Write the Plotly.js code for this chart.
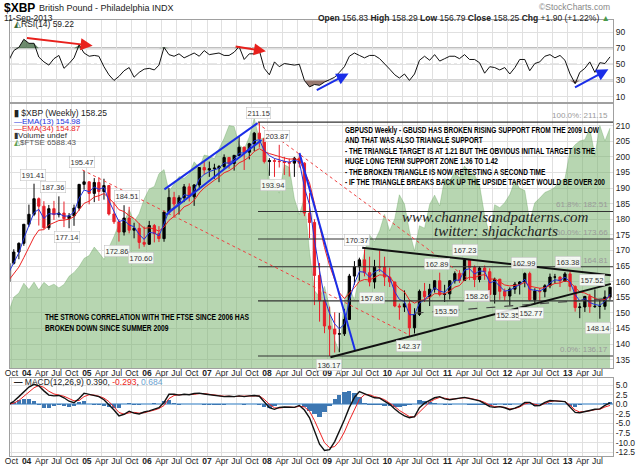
<!DOCTYPE html>
<html><head><meta charset="utf-8">
<script src="https://cdn.plot.ly/plotly-3.0.1.min.js"></script>
<style>html,body{margin:0;padding:0;background:#fff}#chart{width:640px;height:466px}</style>
</head><body><div id="chart"></div>
<script>
// ---------- DATA (monthly, Sep 2003 .. Sep 2013) ----------
const firstMonth = {year: 2003, month: 9};
const firstOpen = 160.0;
const closeP = [165.9,169.5,172.3,178.4,
181.6,186.6,184.2,177.3,183.4,181.5,182.0,180.2,181.1,183.6,191.2,192.0,
188.3,191.8,188.9,190.8,181.7,179.2,175.9,180.4,176.5,177.1,172.6,172.0,
178.0,175.4,173.8,182.3,187.0,184.9,186.9,190.4,187.2,191.0,196.6,195.8,
196.2,196.4,196.9,199.8,197.9,200.5,203.1,201.5,204.2,207.6,205.8,198.5,
198.8,198.6,198.5,198.2,198.0,199.6,198.0,182.0,179.0,162.0,153.9,145.8,
144.8,143.2,143.3,147.9,161.8,164.8,167.0,162.9,159.9,164.8,164.7,161.5,
159.9,152.2,151.9,152.9,145.2,149.5,156.9,155.2,157.6,160.3,155.9,156.1,
160.3,162.6,160.4,167.0,164.6,160.7,164.4,163.2,155.9,160.8,156.9,155.4,
157.6,159.2,159.9,162.6,154.2,157.0,156.8,158.7,161.5,161.5,160.2,162.5,
158.5,151.7,151.9,155.3,152.0,152.1,152.1,155.1,158.25];
const highP = [166.5,170.4,172.6,178.5,
184.7,191.41,187.0,185.8,184.6,185.9,187.36,185.7,182.0,184.7,191.3,195.47,
192.2,193.2,193.5,193.0,191.0,185.5,180.0,184.51,184.0,178.9,178.7,177.7,
179.5,178.5,177.8,182.8,190.0,188.8,187.7,191.3,191.5,191.3,196.7,198.5,
198.5,197.8,197.4,200.8,200.0,200.6,206.6,203.3,204.5,208.0,211.15,206.0,
199.6,199.5,203.87,200.0,199.5,200.0,201.3,198.3,188.4,180.0,166.0,154.7,
152.0,150.2,150.0,151.3,162.5,166.6,167.7,170.37,168.0,167.0,170.0,168.0,
164.5,160.0,153.0,157.2,154.0,151.5,157.5,159.6,159.3,160.4,162.89,159.0,
160.5,163.3,163.7,167.23,167.0,165.2,164.9,165.2,164.3,161.3,160.9,157.8,
158.2,159.9,160.2,162.99,163.2,157.9,158.0,159.2,162.6,162.5,161.7,163.1,
163.38,158.8,153.2,155.4,156.1,157.52,154.3,157.2,158.29];
const lowP = [159.5,165.5,167.2,171.5,
177.6,181.0,178.0,176.9,176.6,179.8,180.6,177.5,177.14,177.9,182.8,189.5,
184.8,185.5,185.9,186.3,181.2,178.5,172.86,174.8,175.5,173.9,170.6,171.2,
171.8,172.6,172.7,172.8,181.5,180.5,181.5,185.5,185.7,184.3,189.6,194.3,
193.6,193.0,191.9,196.2,196.2,195.6,200.3,195.8,199.2,201.8,203.0,197.9,
193.94,193.6,196.6,194.2,193.7,193.6,196.6,181.0,174.0,152.5,147.2,143.5,
136.17,137.3,137.4,142.6,147.8,159.0,160.3,161.7,158.5,157.8,163.1,158.6,
158.3,151.8,147.8,150.3,142.37,143.4,149.0,153.5,152.2,156.5,155.3,153.5,
154.3,159.4,159.6,160.3,160.5,158.26,159.8,160.6,153.8,153.0,154.2,153.9,
152.35,156.1,155.9,158.2,153.8,152.77,153.9,155.0,157.9,159.4,158.3,160.0,
156.9,150.4,148.3,150.3,150.0,151.6,148.14,151.0,154.2];
const ema13Start = 163.0, ema34Start = 160.5;
const ftse = [4091,4287,4342,4477,
4390,4492,4386,4489,4431,4464,4413,4459,4571,4624,4703,4814,
4852,4968,4894,4801,4964,5113,5282,5297,5478,5317,5423,5619,
5760,5792,5965,6023,5723,5833,5928,5906,5961,6129,6048,6221,
6203,6172,6308,6449,6621,6608,6360,6303,6467,6722,6432,6457,
5880,5884,5702,6087,6054,5626,5412,5637,4902,4377,4288,4434,
4150,3700,3550,4244,4418,4249,4608,4909,5134,5045,5191,5413,
5189,5355,5680,5553,5188,4917,5258,5225,5549,5675,5528,5900,
5863,5994,5909,6070,5990,5946,5815,5395,5128,5544,5505,5572,
5682,5872,5768,5738,5321,5571,5635,5711,5742,5783,5867,5898,
6277,6361,6412,6430,6583,6215,6621,6413,6588];
const rsi = [55,
67,71,81,76,76,59,53,49,57,61,
45,51,58,74,64,60,61,60,47,37,
30,35,42,46,34,40,44,45,43,49,
71,62,60,63,58,61,64,60,67,62,
63,64,61,61,65,72,56,63,63,67,
45,37,53,47,51,50,49,50,30,22,
25,24,28,31,34,40,47,60,64,61,
58,61,61,57,51,44,37,33,38,30,
38,55,60,55,62,54,57,60,60,57,
62,56,56,52,39,47,46,43,46,38,
46,56,56,42,51,53,60,62,58,61,
55,38,26,40,45,53,40,52,51,59.22];
const macd = [0.0,
0.8,2.0,3.3,4.5,5.2,4.8,3.5,2.4,2.2,2.3,
1.7,0.8,0.4,1.5,2.9,2.6,2.2,2.0,1.2,0.0,
-1.5,-3.0,-2.6,-1.8,-2.3,-2.5,-2.0,-1.7,-1.2,-0.9,
0.5,2.6,2.6,2.4,2.6,2.5,2.8,2.9,2.7,2.5,
2.2,2.1,2.0,2.1,2.0,2.2,2.0,2.2,2.3,2.1,
0.5,-0.9,-1.3,-0.8,-0.7,-0.7,-0.8,-0.3,-1.5,-3.5,
-6.8,-10.4,-12.0,-11.8,-9.7,-7.2,-4.0,-0.8,1.8,3.3,
2.8,2.2,1.7,1.6,0.8,0.0,-1.2,-2.2,-3.0,-3.5,
-3.2,-0.9,0.3,1.1,1.7,2.0,1.4,1.2,1.5,1.6,
1.8,1.5,1.1,0.9,0.2,-0.6,-0.8,-0.6,-0.9,-1.4,
-1.0,-0.5,0.5,0.5,-0.4,-0.3,0.5,1.0,0.9,0.8,
0.7,-0.7,-2.1,-2.2,-1.8,-1.6,-1.3,-1.2,-0.3,0.39];
const signal = [0.0,
0.3,1.0,2.0,3.2,4.3,4.9,4.4,3.4,2.7,2.4,
2.1,1.5,0.9,1.0,2.0,2.5,2.4,2.1,1.6,0.7,
-0.6,-2.1,-2.6,-2.2,-2.1,-2.3,-2.2,-1.9,-1.5,-1.1,
-0.3,1.5,2.3,2.5,2.5,2.5,2.6,2.8,2.8,2.6,
2.4,2.2,2.1,2.1,2.0,2.1,2.1,2.1,2.2,2.2,
1.3,0.0,-0.9,-1.0,-0.8,-0.7,-0.8,-0.5,-0.7,-1.8,
-4.2,-7.2,-10.0,-11.3,-11.0,-9.6,-7.2,-4.2,-1.2,1.3,
2.5,2.5,2.0,1.7,1.2,0.4,-0.6,-1.6,-2.5,-3.2,
-3.3,-2.0,-0.5,0.6,1.3,1.8,1.6,1.3,1.4,1.5,
1.7,1.6,1.3,1.0,0.5,-0.2,-0.6,-0.6,-0.8,-1.2,
-1.1,-0.7,0.1,0.4,0.0,-0.3,0.2,0.7,0.9,0.8,
0.7,-0.2,-1.5,-2.0,-1.9,-1.7,-1.4,-1.3,-0.7,-0.293];

const tickDates = ['2003-10-01',
'2004-01-01','2004-04-01','2004-07-01','2004-10-01','2005-01-01','2005-04-01','2005-07-01','2005-10-01',
'2006-01-01','2006-04-01','2006-07-01','2006-10-01','2007-01-01','2007-04-01','2007-07-01','2007-10-01',
'2008-01-01','2008-04-01','2008-07-01','2008-10-01','2009-01-01','2009-04-01','2009-07-01','2009-10-01',
'2010-01-01','2010-04-01','2010-07-01','2010-10-01','2011-01-01','2011-04-01','2011-07-01','2011-10-01',
'2012-01-01','2012-04-01','2012-07-01','2012-10-01','2013-01-01','2013-04-01','2013-07-01'];
const tickText = ['Oct',
'<b>04</b>','Apr','Jul','Oct','<b>05</b>','Apr','Jul','Oct',
'<b>06</b>','Apr','Jul','Oct','<b>07</b>','Apr','Jul','Oct',
'<b>08</b>','Apr','Jul','Oct','<b>09</b>','Apr','Jul','Oct',
'<b>10</b>','Apr','Jul','Oct','<b>11</b>','Apr','Jul','Oct',
'<b>12</b>','Apr','Jul','Oct','<b>13</b>','Apr','Jul'];
const priceTicks = [135,140,145,150,155,160,165,170,175,180,185,190,195,200,205,210];
const rsiTicks = [10,30,50,70,90];
const macdTicks = [5,2.5,0,-2.5,-5,-7.5,-10,-12.5];
const macdTickText = ['5.0','2.5','0.0','-2.5','-5.0','-7.5','-10.0','-12.5'];

const fibStart = '2007-11-07';
const fibLevels = [211.15,182.51,173.66,164.81,153.86,136.17];
const fibText = ['100.0%: 211.15','61.8%: 182.51','50.0%: 173.66','38.2%: 164.81','','0.0%: 136.17'];

const ptDates = ['2004-02-10','2004-06-10','2004-11-30','2005-08-30','2004-09-05','2005-07-06','2005-11-24',
'2007-11-07','2008-03-03','2008-02-06','2009-01-10','2009-07-01','2009-09-27','2010-05-12','2010-10-30',
'2010-12-25','2011-04-20','2011-07-01','2012-04-09','2012-01-01','2012-05-22','2013-01-01','2013-05-30','2013-07-01'];
const ptVals = [191.41,187.36,195.47,184.51,177.14,172.86,170.60,211.15,203.87,193.94,136.17,170.37,157.80,142.37,
162.89,153.50,167.23,158.26,162.99,152.35,152.77,163.38,157.52,148.14];
const ptPos = [1,1,1,1,-1,-1,-1,1,1,-1,-1,1,-1,-1,1,-1,1,-1,1,-1,-1,1,1,-1];

const blueLines = [['2006-04-17',189.6,'2007-11-04',210.8],['2006-04-25',181.4,'2007-11-28',205.4],['2008-07-16',201.2,'2009-06-18',138.1]];
const blackLines = [['2009-08-01',170.9,'2013-09-20',162.1],['2009-01-20',135.8,'2013-09-20',159.3]];
const dashLines = [['2010-06-15',149.9,'2013-09-20',154.7]];
const redDash = [['2004-12-05',195.8,'2010-05-15',142.9],['2007-11-04',210.8,'2011-05-15',160.6]];
const rsiArrows = [['2003-12-25',82.9,'2005-02-05',73,'#e8201c'],['2007-06-15',72.5,'2007-12-25',66.2,'#e8201c'],
['2008-10-20',17,'2009-05-10',38.7,'#1a2ee8'],['2013-02-05',20.3,'2013-09-05',43.8,'#1a2ee8']];

const noteLines = ['GBPUSD Weekly - GBUSD HAS BROKEN RISING SUPPORT FROM THE 2009 LOW',
'AND THAT WAS ALSO TRIANGLE SUPPORT',
'- THE TRIANGLE TARGET IS AT 1.21 BUT THE OBVIOUS INITIAL TARGET IS THE',
'HUGE LONG TERM SUPPORT ZONE 1.36 TO 1.42',
'- THE BROKEN TRIANGLE IS NOW RETESTING A SECOND TIME',
'- IF THE TRIANGLE BREAKS BACK UP THE UPSIDE TARGET WOULD BE OVER 200'];
const ftseLines = ['THE STRONG CORRELATION WITH THE FTSE SINCE 2006 HAS', 'BROKEN DOWN SINCE SUMMER 2009'];

// ---------- BUILD ----------
const dates = closeP.map((_, i) => {
  const m = firstMonth.month - 1 + i;
  const y = firstMonth.year + Math.floor(m / 12);
  const mm = String(m % 12 + 1).padStart(2, '0');
  return `${y}-${mm}-15`;
});
const openP = closeP.map((c, i) => i === 0 ? firstOpen : closeP[i - 1]);
const ema = (start, n) => { const a = 2 / (n + 1); const out = [start];
  for (let i = 1; i < closeP.length; i++) out.push(out[i - 1] + a * (closeP[i] - out[i - 1])); return out; };
const ema13 = ema(ema13Start, 3), ema34 = ema(ema34Start, 8);
const hist = macd.map((v, i) => v - signal[i]);

const F = '"Liberation Sans", Arial, sans-serif';
const L = 10, R = 27, T = 20, B = 10, WW = 640, HH = 466;
const PW = WW - L - R, PH = HH - T - B;
const px = x => (x - L) / PW, py = y => (HH - B - y) / PH;
const xr = ['2003-09-22', '2013-10-03'];

const traces = [
  {type:'scatter', x:dates, y:ftse, xaxis:'x2', yaxis:'y2', mode:'lines', fill:'tozeroy',
   line:{color:'rgba(95,160,85,0.55)', width:0.6}, fillcolor:'rgba(112,173,99,0.5)', hoverinfo:'skip'},
  {type:'candlestick', x:dates, open:openP, high:highP, low:lowP, close:closeP, xaxis:'x2', yaxis:'y4',
   increasing:{line:{color:'#000', width:1}, fillcolor:'#000'},
   decreasing:{line:{color:'#e8202a', width:1}, fillcolor:'#e8202a'}, whiskerwidth:0},
  {type:'scatter', x:dates, y:ema34, xaxis:'x2', yaxis:'y4', mode:'lines', line:{color:'#ee2222', width:1}},
  {type:'scatter', x:dates, y:ema13, xaxis:'x2', yaxis:'y4', mode:'lines', line:{color:'#2233dd', width:1}},
  {type:'scatter', x:dates, y:rsi.map(() => 70), xaxis:'x', yaxis:'y', mode:'lines', line:{width:0}, hoverinfo:'skip'},
  {type:'scatter', x:dates, y:rsi.map(v => Math.max(v, 70)), xaxis:'x', yaxis:'y', mode:'lines', line:{width:0},
   fill:'tonexty', fillcolor:'rgba(60,100,60,0.75)', hoverinfo:'skip'},
  {type:'scatter', x:dates, y:rsi.map(() => 30), xaxis:'x', yaxis:'y', mode:'lines', line:{width:0}, hoverinfo:'skip'},
  {type:'scatter', x:dates, y:rsi.map(v => Math.min(v, 30)), xaxis:'x', yaxis:'y', mode:'lines', line:{width:0},
   fill:'tonexty', fillcolor:'rgba(120,80,70,0.75)', hoverinfo:'skip'},
  {type:'scatter', x:dates, y:rsi, xaxis:'x', yaxis:'y', mode:'lines', line:{color:'#111', width:1}},
  {type:'bar', x:dates, y:hist, xaxis:'x3', yaxis:'y3', marker:{color:'#3d77b2', line:{width:0}}, width:26*86400000},
  {type:'scatter', x:dates, y:signal, xaxis:'x3', yaxis:'y3', mode:'lines', line:{color:'#ee2222', width:1}},
  {type:'scatter', x:dates, y:macd, xaxis:'x3', yaxis:'y3', mode:'lines', line:{color:'#111', width:1.4}}
];

const gridC = '#e0e0e0', frameC = '#a0a0a0';
const tickF = {family:F, size:8.5, color:'#222'};
const xBase = {type:'date', range:xr, tickmode:'array', tickvals:tickDates, ticktext:tickText, showgrid:true,
  gridcolor:gridC, gridwidth:1, showline:true, mirror:true, linecolor:frameC, linewidth:1, ticks:'', tickfont:tickF,
  zeroline:false, fixedrange:true, ticklabelstandoff:-3};
const layout = {
  width:WW, height:HH, margin:{l:L, r:R, t:T, b:B}, paper_bgcolor:'#fff', plot_bgcolor:'#fff', showlegend:false,
  font:{family:F, size:8.5, color:'#222'}, bargap:0,
  xaxis: Object.assign({}, xBase, {domain:[0,1], anchor:'y', showticklabels:false}),
  xaxis2: Object.assign({}, xBase, {domain:[0,1], anchor:'y2', rangeslider:{visible:false}}),
  xaxis3: Object.assign({}, xBase, {domain:[0,1], anchor:'y3'}),
  yaxis: {domain:[py(102), 1], anchor:'x', side:'right', range:[3.3, 104.9], tickmode:'array', tickvals:rsiTicks,
    showgrid:true, gridcolor:gridC, showline:true, mirror:true, linecolor:frameC, ticks:'', tickfont:tickF, zeroline:false},
  yaxis2: {domain:[py(368), py(104)], anchor:'x2', range:[3323, 6915], visible:false, showgrid:false, zeroline:false},
  yaxis4: {overlaying:'y2', anchor:'x2', side:'right', range:[132.34, 216.95], tickmode:'array', tickvals:priceTicks,
    showgrid:true, gridcolor:gridC, showline:true, mirror:true, linecolor:frameC, ticks:'', tickfont:tickF, zeroline:false},
  yaxis3: {domain:[0, py(378)], anchor:'x3', side:'right', range:[-13.46, 6.85], tickmode:'array', tickvals:macdTicks,
    ticktext:macdTickText, showgrid:true, gridcolor:gridC, showline:true, mirror:true, linecolor:frameC, ticks:'',
    tickfont:tickF, zeroline:true, zerolinecolor:'rgba(120,170,215,0.8)', zerolinewidth:2},
  shapes:[], annotations:[]
};

layout.shapes.push({type:'line', xref:'x', yref:'y', x0:xr[0], x1:xr[1], y0:70, y1:70, line:{color:'#aaa', width:2}, layer:'below'});
layout.shapes.push({type:'line', xref:'x', yref:'y', x0:xr[0], x1:xr[1], y0:30, y1:30, line:{color:'#aaa', width:2}, layer:'below'});
layout.shapes.push({type:'line', xref:'x', yref:'y', x0:xr[0], x1:xr[1], y0:50, y1:50, line:{color:'#888', width:1, dash:'dashdot'}, layer:'below'});

fibLevels.forEach((v, i) => {
  layout.shapes.push({type:'line', xref:'x2', yref:'y4', x0:fibStart, x1:xr[1], y0:v, y1:v, line:{color:'#333', width:1.1}});
  if (fibText[i]) layout.annotations.push({xref:'x2', yref:'y4', x:xr[1], y:v, xanchor:'right', yanchor:'bottom', xshift:-3,
    text:fibText[i], showarrow:false, font:{family:F, size:8, color:'#9a9a9a'}});
});
const addLines = (arr, style) => arr.forEach(l => layout.shapes.push({type:'line', xref:'x2', yref:'y4',
  x0:l[0], y0:l[1], x1:l[2], y1:l[3], line:style}));
addLines(redDash, {color:'#f04040', width:1, dash:'dot'});
addLines(blueLines, {color:'#1a2ee8', width:2});
addLines(blackLines, {color:'#111', width:2});
addLines(dashLines, {color:'#444', width:1.2, dash:'dash'});

rsiArrows.forEach(a => layout.annotations.push({xref:'x', yref:'y', axref:'x', ayref:'y', x:a[2], y:a[3], ax:a[0], ay:a[1],
  showarrow:true, arrowhead:2, arrowsize:1.2, arrowwidth:2, arrowcolor:a[4], text:''}));

ptDates.forEach((d, i) => layout.annotations.push({xref:'x2', yref:'y4', x:d, y:ptVals[i], yshift:ptPos[i] * 9,
  text:ptVals[i].toFixed(2), showarrow:false, font:{family:F, size:7.5, color:'#333'},
  bgcolor:'rgba(255,255,255,0.85)', bordercolor:'#bbb', borderwidth:0.5, borderpad:1}));

const txt = (x, y, text, font, extra) => layout.annotations.push(Object.assign({xref:'paper', yref:'paper',
  x:px(x), y:py(y), text:text, showarrow:false, xanchor:'left', yanchor:'middle', align:'left',
  font:Object.assign({family:F, size:8.5, color:'#222'}, font || {})}, extra || {}));

// header
txt(2, 8, '<b>$XBP</b>', {size:12, color:'#000'});
txt(37, 8, 'British Pound - Philadelphia INDX', {size:9});
txt(2, 18, '11-Sep-2013', {size:8.5});
txt(612, 7, '©StockCharts.com', {size:8.5, color:'#888'}, {xanchor:'right'});
txt(612, 18, '<b>Open</b> 156.83 <b>High</b> 158.29 <b>Low</b> 156.79 <b>Close</b> 158.25 <b>Chg</b> +1.90 (+1.22%) <span style="color:#4a9a4a">▲</span>', {size:8.5}, {xanchor:'right'});

// panel legends
txt(12, 24, '<span style="color:#3a6a3a">◭</span>RSI(14) 59.22');
txt(12, 113, '<b>▮</b> $XBP (Weekly) 158.25');
txt(12, 121, '<span style="color:#2233dd">—EMA(13) 154.98</span>', {size:8});
txt(12, 128.5, '<span style="color:#ee2222">—EMA(34) 154.87</span>', {size:8});
txt(12, 135.5, '▮Volume undef', {size:8, color:'#333'});
txt(12, 142.5, '<span style="color:#5fa055">◭</span>$FTSE 6588.43', {size:8, color:'#555'});
txt(12, 382, '<b>—</b> MACD(12,26,9) 0.390, <span style="color:#ee2222">-0.293</span>, <span style="color:#6a9fd0">0.684</span>');

// commentary, one annotation per line
const boldF = {size:8.5, color:'#000', weight:700};
noteLines.forEach((s, i) => txt(342.5, 130 + i * 10.4, s, boldF));
ftseLines.forEach((s, i) => txt(42.5, 317.3 + i * 10.4, s, boldF));
txt(495.5, 217, '<i>www.channelsandpatterns.com</i>', {family:'"Liberation Serif", serif', size:15, color:'#222'}, {xanchor:'center'});
txt(495.5, 231, '<i>twitter: shjackcharts</i>', {family:'"Liberation Serif", serif', size:15, color:'#222'}, {xanchor:'center'});

Plotly.newPlot('chart', traces, layout, {staticPlot:true, displayModeBar:false}).then(() => {
  // the original uses a condensed bold face: narrow these lines to the widths they take in the original
  const els = Array.from(document.querySelectorAll('text.annotation-text'));
  const squeeze = (lines, target) => {
    const find = s => els.find(e => e.textContent === s);
    const first = find(lines[0]); if (!first) return;
    const r = target / first.getComputedTextLength();
    lines.forEach(s => { const e = find(s); if (!e) return;
      const w = e.getComputedTextLength() * r;
      e.setAttribute('textLength', w.toFixed(1));
      e.setAttribute('lengthAdjust', 'spacingAndGlyphs');
      const g = e.parentNode; const rect = g && g.querySelector('rect.bg');
      if (rect) rect.setAttribute('width', (w + 2).toFixed(1)); });
  };
  squeeze(noteLines, 254);
  squeeze(ftseLines, 204);
});
</script></body></html>
